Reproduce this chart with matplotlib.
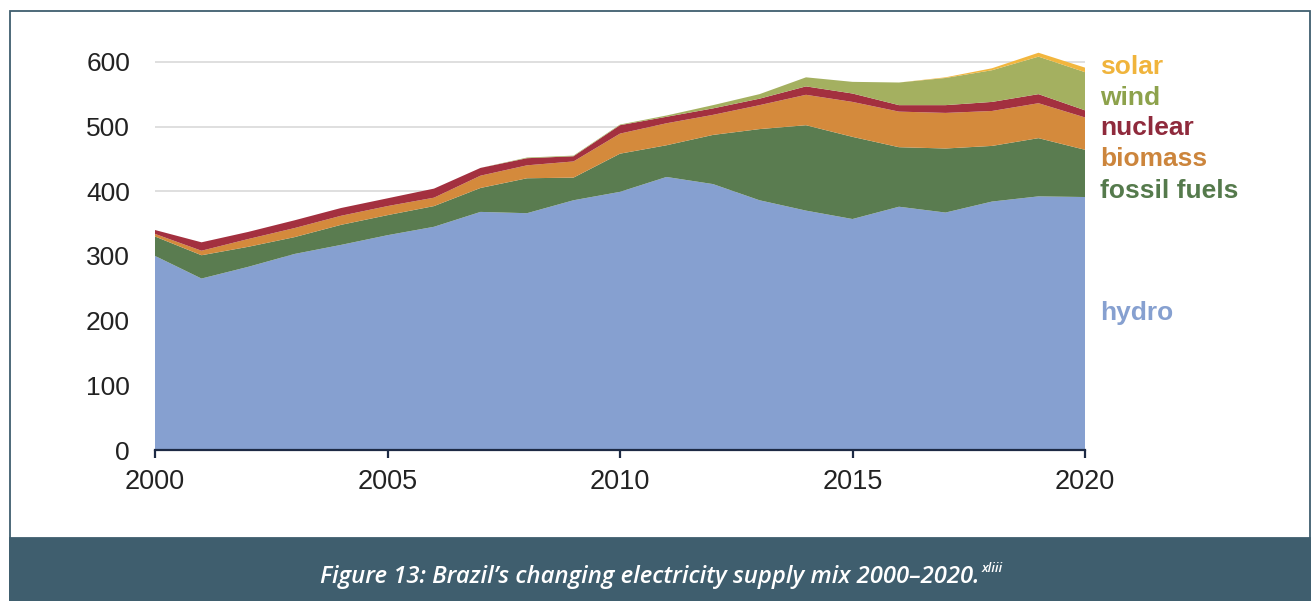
import matplotlib
matplotlib.use("Agg")
import matplotlib.pyplot as plt
from matplotlib.patches import Rectangle

years = list(range(2000, 2021))
hydro   = [300, 265, 283, 303, 317, 332, 345, 368, 366, 386, 399, 422, 411, 386, 370, 357, 376, 367, 384, 392, 391]
fossil  = [30, 36, 31, 26, 31, 31, 32, 37, 54, 35, 59, 49, 76, 110, 132, 127, 92, 99, 86, 90, 73]
biomass = [4, 7, 12, 14, 14, 14, 13, 19, 20, 25, 31, 34, 31, 37, 47, 54, 55, 55, 54, 54, 50]
nuclear = [6, 13, 11, 12, 12, 12, 14, 12, 11, 8, 13, 10, 10, 10, 13, 13, 10, 12, 14, 14, 11]
wind    = [0, 0, 0, 0, 0, 0, 0, 0, 1, 1, 1, 2, 5, 7, 14, 18, 35, 42, 49, 58, 59]
solar   = [0, 0, 0, 0, 0, 0, 0, 0, 0, 0, 0, 0, 0, 0, 0, 0, 0, 1, 3, 6, 7]

series_names = ["hydro", "fossil fuels", "biomass", "nuclear", "wind", "solar"]
fill_colors = ["#86a0d0", "#5a7c50", "#d48a3c", "#a3303f", "#a4b060", "#f2b63e"]
text_colors = ["#86a0d0", "#557a4c", "#cc853c", "#8f2a3c", "#8da24c", "#f0b43c"]
label_y = [212, 401, 449, 497, 544, 592]

xticks = [2000, 2005, 2010, 2015, 2020]
yticks = [0, 100, 200, 300, 400, 500, 600]
caption = "Figure 13: Brazil\u2019s changing electricity supply mix 2000\u20132020."
caption_sup = "xliii"

W, H = 1316, 601
fig = plt.figure(figsize=(W / 100, H / 100), dpi=100)
fig.patch.set_facecolor("white")

band_col = "#3f5e6e"
fig.patches.append(Rectangle((10 / W, 0), 1300 / W, (H - 11) / H, transform=fig.transFigure,
                             fill=False, edgecolor=band_col, linewidth=1.3, zorder=0))
fig.patches.append(Rectangle((10 / W, 0), 1300 / W, (H - 538) / H, transform=fig.transFigure,
                             facecolor=band_col, edgecolor=band_col, linewidth=1.3, zorder=0))

ymax = 630
y0_px, px_per_unit = 450, 0.647
bottom = 1 - y0_px / H
height = (ymax * px_per_unit) / H
ax = fig.add_axes([155 / W, bottom, (1085 - 155) / W, height])
ax.set_facecolor("none")

ax.stackplot(years, hydro, fossil, biomass, nuclear, wind, solar,
             colors=fill_colors, linewidth=0, zorder=2)

ax.set_xlim(2000, 2020)
ax.set_ylim(0, ymax)
ax.set_xticks(xticks)
ax.set_yticks(yticks)
ax.set_axisbelow(True)
ax.yaxis.grid(True, color="#d9d9d9", linewidth=1.2)
ax.xaxis.grid(False)
for s in ["left", "right", "top"]:
    ax.spines[s].set_visible(False)
ax.spines["bottom"].set_color("#1d2a44")
ax.spines["bottom"].set_linewidth(1.6)
ax.spines["bottom"].set_zorder(5)

fam = ["Liberation Sans", "DejaVu Sans"]
ax.tick_params(axis="y", length=0, pad=18, labelsize=19, labelcolor="#222222")
ax.tick_params(axis="x", length=6, width=1.6, color="#1d2a44", pad=8,
               labelsize=19.5, labelcolor="#222222", direction="out")
for lbl in ax.get_xticklabels() + ax.get_yticklabels():
    lbl.set_fontfamily(fam)

for name, col, yv in zip(series_names, text_colors, label_y):
    ax.text(2020.32, yv, name, color=col, fontsize=19, fontweight="bold",
            fontfamily=fam, va="center", ha="left", clip_on=False)

cap_fam = ["Open Sans", "DejaVu Sans"]
t_main = fig.text(0, (H - 577) / H, caption, color="white", fontsize=17.2,
                  fontstyle="italic", fontweight="semibold", fontfamily=cap_fam,
                  ha="left", va="center")
t_sup = fig.text(0, (H - 569) / H, caption_sup, color="white", fontsize=9.5,
                 fontstyle="italic", fontweight="semibold", fontfamily=cap_fam,
                 ha="left", va="center")
fig.canvas.draw()
r = fig.canvas.get_renderer()
bm = t_main.get_window_extent(r)
bs = t_sup.get_window_extent(r)
total = bm.width + 2 + bs.width
start = (W - total) / 2 + 3
t_main.set_x(start / W)
t_sup.set_x((start + bm.width + 2) / W)

fig.savefig("out.png", dpi=100, facecolor="white")
